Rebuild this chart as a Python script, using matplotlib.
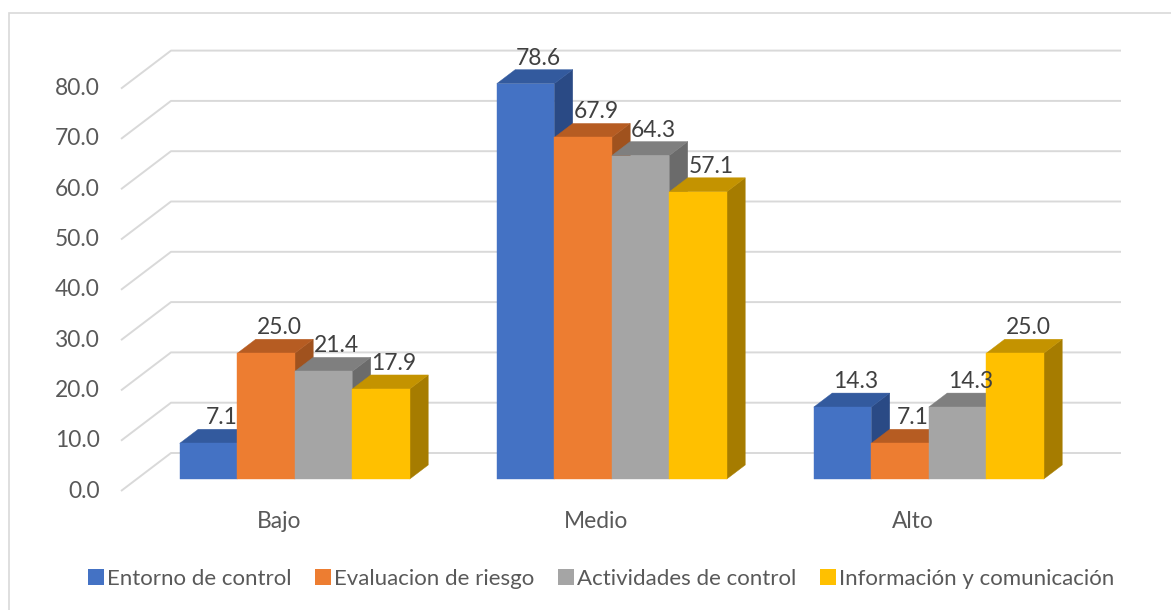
import matplotlib
matplotlib.use('Agg')
import matplotlib.pyplot as plt
from matplotlib.patches import Polygon, Rectangle, Patch

# ---------------- data ----------------
categories = ['Bajo', 'Medio', 'Alto']
series_names = ['Entorno de control', 'Evaluacion de riesgo',
                'Actividades de control', 'Información y comunicación']
entorno = [7.1, 78.6, 14.3]
evaluacion = [25.0, 67.9, 7.1]
actividades = [21.4, 64.3, 14.3]
informacion = [17.9, 57.1, 25.0]
yticks = [0, 10, 20, 30, 40, 50, 60, 70, 80]
ytick_labels = ['0.0', '10.0', '20.0', '30.0', '40.0', '50.0', '60.0', '70.0', '80.0']

series_values = [entorno, evaluacion, actividades, informacion]
front_cols = ['#4472C4', '#ED7D31', '#A5A5A5', '#FFC000']
top_cols = ['#335A9E', '#B65C22', '#7F7F7F', '#C49300']
side_cols = ['#2A4A85', '#A0521E', '#6B6B6B', '#A67C00']

plt.rcParams['font.family'] = ['Lato', 'DejaVu Sans']
FS = 16.4
FS_LEG = 16.0

W, H = 1171, 610
fig = plt.figure(figsize=(W / 100, H / 100), dpi=100)
ax = fig.add_axes([0, 0, 1, 1])

# scale: category units and value units mapped onto the figure
PX_CAT = 317.0
CAT0_PX = 279.0
PX_VAL = 5.03
VAL0_PY = 491.0
ax.set_xlim((0 - CAT0_PX) / PX_CAT, (W - CAT0_PX) / PX_CAT)
ax.set_ylim((VAL0_PY - H) / PX_VAL, VAL0_PY / PX_VAL)
ax.axis('off')

DEPTH_X = 50 / PX_CAT
DEPTH_Y = 38 / PX_VAL
F0 = 12 / 38
F1 = 26 / 38


def proj(x, v, d):
    return (x + d * DEPTH_X, v + d * DEPTH_Y)


# chart border
fig.patches.append(Rectangle((8.5 / W, -0.05), 1.2, 1 - 13.5 / H + 0.05,
                             transform=fig.transFigure, fill=False,
                             edgecolor='#D9D9D9', linewidth=1.2))

# gridlines (front diagonal + back wall)
x_left = (121 - CAT0_PX) / PX_CAT
x_right = (1121 - CAT0_PX) / PX_CAT
for t, lab in zip(yticks, ytick_labels):
    ax.plot([x_left, x_left + DEPTH_X, x_right], [t, t + DEPTH_Y, t + DEPTH_Y],
            color='#D9D9D9', lw=1.4, solid_capstyle='butt', zorder=1)
    ax.text((100 - CAT0_PX) / PX_CAT, t, lab, ha='right', va='center',
            fontsize=FS, color='#595959')

# bars
bw = 57.5 / PX_CAT
n = len(series_values)
for i, cat in enumerate(categories):
    for j in range(n):
        h = series_values[j][i]
        x0 = i - n / 2 * bw + j * bw
        x1 = x0 + bw
        side = [proj(x1, 0, F0), proj(x1, 0, F1), proj(x1, h, F1), proj(x1, h, F0)]
        top = [proj(x0, h, F0), proj(x1, h, F0), proj(x1, h, F1), proj(x0, h, F1)]
        front = [proj(x0, 0, F0), proj(x1, 0, F0), proj(x1, h, F0), proj(x0, h, F0)]
        for poly, col in ((side, side_cols[j]), (top, top_cols[j]), (front, front_cols[j])):
            ax.add_patch(Polygon(poly, closed=True, facecolor=col, edgecolor=col,
                                 linewidth=0.3, zorder=2 + i * 10 + j))
        lx = (x0 + x1) / 2 + F0 * DEPTH_X + 0.7 * (F1 - F0) * DEPTH_X
        ly = h + F1 * DEPTH_Y + 5 / PX_VAL
        ax.text(lx, ly, f'{h:.1f}', ha='center', va='baseline', fontsize=FS,
                color='#404040', zorder=100)
    ax.text(i, (VAL0_PY - 521) / PX_VAL, cat, ha='center', va='center',
            fontsize=FS, color='#595959')

handles = [Patch(facecolor=c, edgecolor='none') for c in front_cols]
leg = fig.legend(handles, series_names, loc='center',
                 bbox_to_anchor=(601 / W, 1 - 579 / H), ncol=4, frameon=False,
                 fontsize=FS_LEG, handlelength=0.72, handleheight=0.72,
                 handletextpad=0.15, columnspacing=1.05, borderaxespad=0)
for txt in leg.get_texts():
    txt.set_color('#595959')

fig.savefig('out.png', dpi=100, facecolor='white')
